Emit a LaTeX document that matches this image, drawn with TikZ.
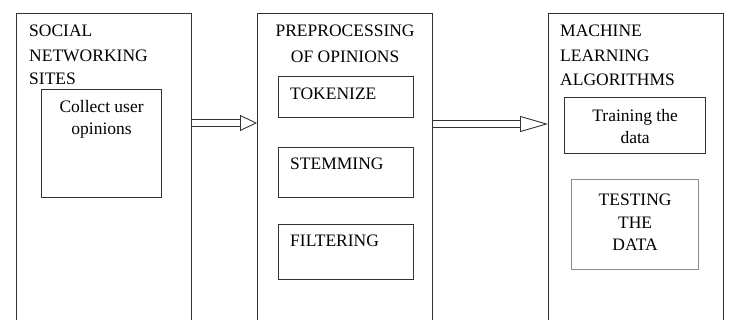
\documentclass[tikz,border=0pt]{standalone}
\usepackage{fontspec}
\setmainfont{Liberation Serif}
\usetikzlibrary{arrows.meta}
\definecolor{boxline}{HTML}{333333}
\definecolor{faintline}{HTML}{8C8C8C}
\newcommand{\diagfont}{\fontsize{17.5}{22.5}\selectfont}
\tikzset{
  stage/.style={
    rectangle,
    anchor=north west,
    minimum width=175pt,
    minimum height=340pt,
    inner sep=0pt,
    line width=1.2pt,
    draw=boxline,
  },
  task/.style={
    rectangle,
    anchor=north west,
    inner sep=0pt,
    line width=1.2pt,
    draw=boxline,
  },
  faint task/.style={
    task,
    draw=faintline,
  },
  heading/.style={
    inner sep=0pt,
    text=black,
  },
  tasktext/.style={
    inner sep=0pt,
    align=center,
    text=black,
  },
  flow/.style={
    double,
    double distance=5.5pt,
    line width=0.9pt,
    draw=boxline,
  },
}

\begin{document}
\begin{tikzpicture}[x=1pt,y=1pt,font=\diagfont]
  \useasboundingbox (0,0) rectangle (730,320);

  % The three stages, running off the bottom edge.
  \node[stage] (sites) at (16,307) {};
  \node[stage] (prep) at (257,307) {};
  \node[stage] (learn) at (548,307) {};

  % Stage headings.
  \node[heading, anchor=north west, align=left] (sites title)
    at ([xshift=13pt,yshift=-12pt]sites.north west) {SOCIAL\\[2pt]NETWORKING\\[1pt]SITES};
  \node[heading, anchor=north, align=center] (prep title)
    at ([yshift=-12pt]prep.north) {PREPROCESSING\\[3pt]OF OPINIONS};
  \node[heading, anchor=north west, align=left] (learn title)
    at ([xshift=12pt,yshift=-12pt]learn.north west) {MACHINE\\[2pt]LEARNING\\[2pt]ALGORITHMS};

  % Tasks inside each stage.
  \node[task, minimum width=120pt, minimum height=108pt,
        label={[tasktext, anchor=north, yshift=-11pt]north:Collect user\\opinions}]
    (collect) at (41,231) {};

  \node[task, minimum width=135pt, minimum height=41pt,
        label={[tasktext, anchor=north west, xshift=12pt, yshift=-12pt]north west:TOKENIZE}]
    (tokenize) at (278,244) {};
  \node[task, minimum width=135pt, minimum height=50pt,
        label={[tasktext, anchor=north west, xshift=12pt, yshift=-11pt]north west:STEMMING}]
    (stemming) at (278,173) {};
  \node[task, minimum width=135pt, minimum height=55pt,
        label={[tasktext, anchor=north west, xshift=12pt, yshift=-11pt]north west:FILTERING}]
    (filtering) at (278,96) {};

  \node[task, minimum width=141pt, minimum height=56pt,
        label={[tasktext, anchor=north, yshift=-12pt]north:Training the\\data}]
    (training) at (564,223) {};
  \node[faint task, minimum width=127pt, minimum height=90pt,
        label={[tasktext, anchor=north, yshift=-15pt]north:TESTING\\THE\\DATA}]
    (testing) at (571,141) {};

  % Hollow arrows between the stages.
  \draw[flow, -{Triangle[open,length=17pt,width=16pt]}]
    ([yshift=-110pt]sites.north east) -- ([yshift=-110pt]prep.north west);
  \draw[flow, -{Triangle[open,length=28pt,width=16pt]}]
    ([yshift=-111pt]prep.north east) -- ([yshift=-111pt]learn.north west);
\end{tikzpicture}
\end{document}
